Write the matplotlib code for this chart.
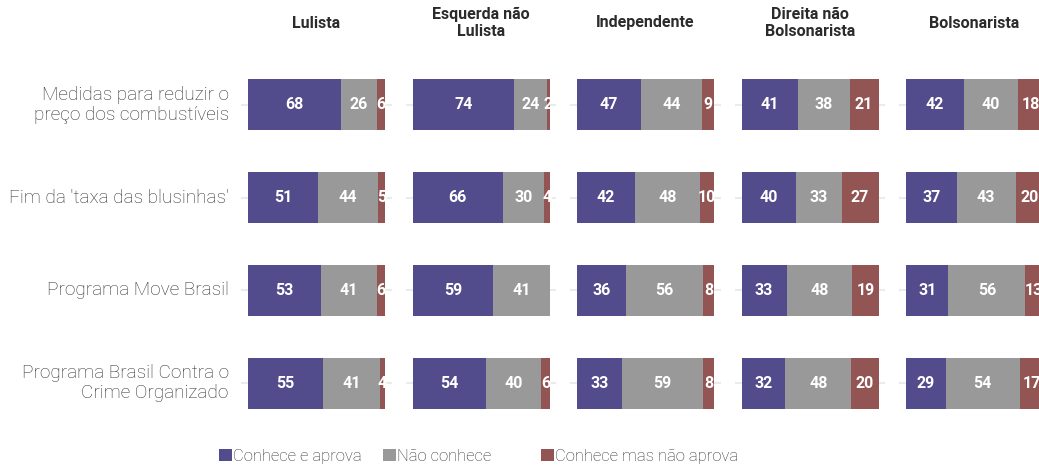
import numpy as np
import matplotlib.pyplot as plt
from matplotlib.patches import Patch

plt.rcParams['font.family'] = ['Roboto', 'DejaVu Sans']

groups = ['Lulista', 'Esquerda não\nLulista', 'Independente',
          'Direita não\nBolsonarista', 'Bolsonarista']
items = ['Medidas para reduzir o\npreço dos combustíveis',
         "Fim da 'taxa das blusinhas'",
         'Programa Move Brasil',
         'Programa Brasil Contra o\nCrime Organizado']
series = ['Conhece e aprova', 'Não conhece', 'Conhece mas não aprova']
colors = ['#524b8c', '#999999', '#935454']

# rows = items, one list per group
aprova = [[68, 51, 53, 55],
          [74, 66, 59, 54],
          [47, 42, 36, 33],
          [41, 40, 33, 32],
          [42, 37, 31, 29]]
nao_conhece = [[26, 44, 41, 41],
               [24, 30, 41, 40],
               [44, 48, 56, 59],
               [38, 33, 48, 48],
               [40, 43, 56, 54]]
nao_aprova = [[6, 5, 6, 4],
              [2, 4, 0, 6],
              [9, 10, 8, 8],
              [21, 27, 19, 20],
              [18, 20, 13, 17]]

W, H = 1039, 465
fig = plt.figure(figsize=(W / 100, H / 100), dpi=100)

px_unit = 1.37
ax_w = 110 * px_unit
y_top, y_bot = 49, 439
ypos = np.arange(len(items))

for g in range(len(groups)):
    left = 248 + 164.5 * g - 5 * px_unit
    ax = fig.add_axes([left / W, 1 - y_bot / H, ax_w / W, (y_bot - y_top) / H])
    ax.set_xlim(-5, 105)
    ax.set_ylim(3.6, -0.6)
    for y in ypos:
        ax.axhline(y, color='#ebebeb', lw=1.5, zorder=0)
    start = np.zeros(len(items))
    for vals, c in zip([aprova[g], nao_conhece[g], nao_aprova[g]], colors):
        vals = np.array(vals, dtype=float)
        ax.barh(ypos, vals, left=start, height=0.55, color=c, zorder=2)
        for y, v, s in zip(ypos, vals, start):
            if v > 0:
                ax.text(s + v / 2, y, f'{int(v)}', ha='center', va='center',
                        color='white', fontsize=11.5, fontweight='bold', zorder=3)
        start += vals
    ax.axis('off')
    fig.text((left + ax_w / 2) / W, 1 - 23 / H, groups[g], ha='center', va='center',
             fontsize=11.5, fontweight='bold', color='#2b2b2b', linespacing=1.15)
    if g == 0:
        for y, lab in zip(ypos, items):
            ax.text(-14, y, lab, ha='right', va='center', fontsize=13.7,
                    fontweight='light', color='#2f2f2f', linespacing=1.17)

# legend entries sit at fixed positions, as in the original
for lab, c, x in zip(series, colors, [219, 383, 541]):
    fig.legend([Patch(facecolor=c, edgecolor='none')], [lab], loc='center left',
               bbox_to_anchor=(x / W, 1 - 456 / H), frameon=False,
               borderpad=0, borderaxespad=0, handlelength=0.75, handleheight=0.75,
               handletextpad=0.1, prop={'size': 12, 'weight': 'light'},
               labelcolor='#2f2f2f')

fig.savefig('out.png', dpi=100)
